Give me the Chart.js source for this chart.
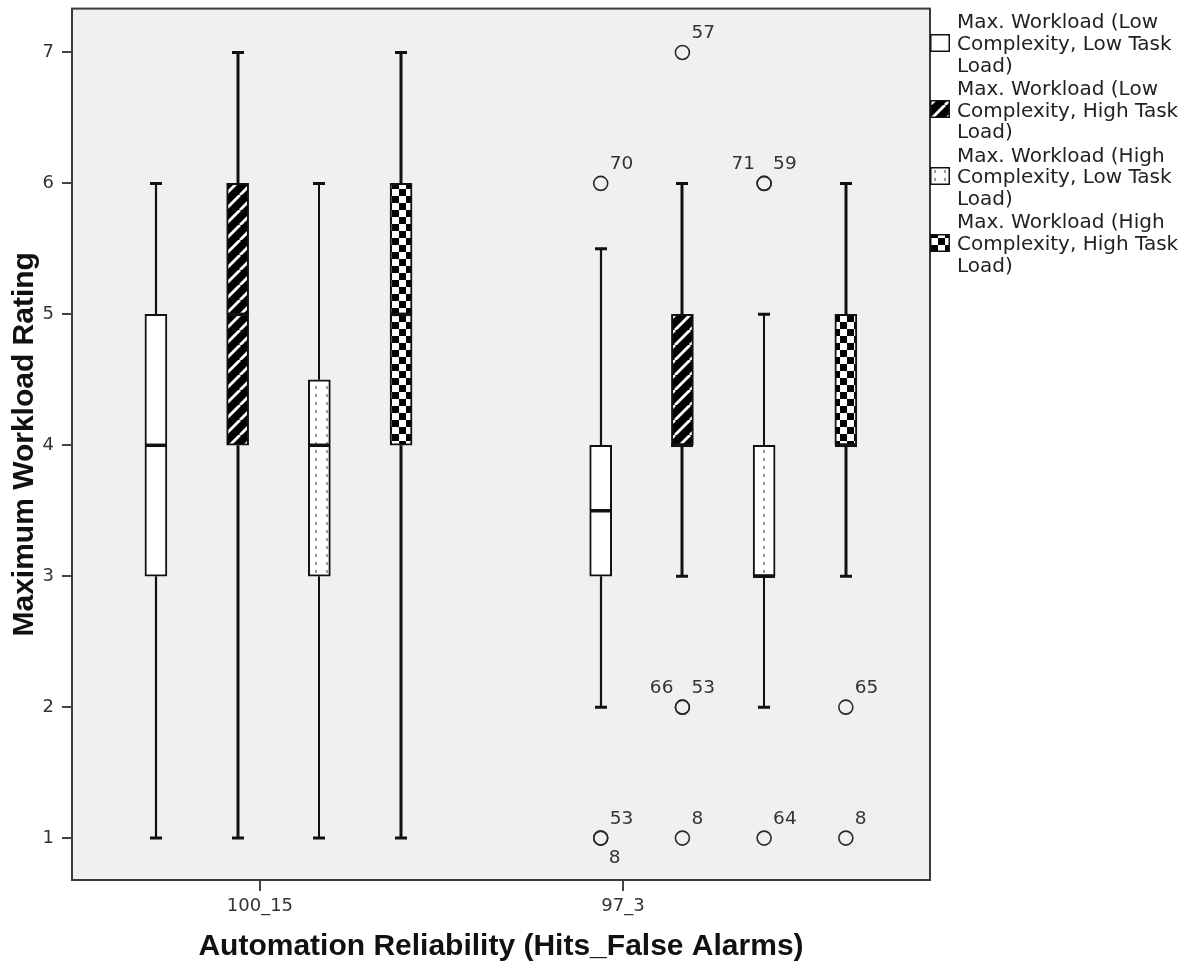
<!DOCTYPE html>
<html>
<head>
<meta charset="utf-8">
<script src="https://cdn.jsdelivr.net/npm/chart.js@4.4.1/dist/chart.umd.min.js"></script>
<style>
html, body { margin: 0; padding: 0; background: #ffffff; }
canvas { display: block; }
</style>
</head>
<body>
<canvas id="chart" width="1201" height="972"></canvas>
<script>
// ---------------- DATA ----------------
const categories = ['100_15', '97_3'];
const yTicks = [1, 2, 3, 4, 5, 6, 7];

const seriesLegend = [
  ['Max. Workload (Low', 'Complexity, Low Task', 'Load)'],
  ['Max. Workload (Low', 'Complexity, High Task', 'Load)'],
  ['Max. Workload (High', 'Complexity, Low Task', 'Load)'],
  ['Max. Workload (High', 'Complexity, High Task', 'Load)']
];

// [min, Q1, median, Q3, max] for 100_15 and 97_3
const lowCxLowTL   = [[1, 3, 4, 5, 6],   [2, 3, 3.5, 4, 5.5]];
const lowCxHighTL  = [[1, 4, 5, 6, 7],   [3, 4, 4, 5, 6]];
const highCxLowTL  = [[1, 3, 4, 4.5, 6], [2, 3, 3, 4, 5]];
const highCxHighTL = [[1, 4, 5, 6, 7],   [3, 4, 4, 5, 6]];

// outliers: [category index, value, case id]
const lowCxLowTLOut   = [[1, 6, '70'], [1, 1, '53'], [1, 1, '8']];
const lowCxHighTLOut  = [[1, 7, '57'], [1, 2, '66'], [1, 2, '53'], [1, 1, '8']];
const highCxLowTLOut  = [[1, 6, '71'], [1, 6, '59'], [1, 1, '64']];
const highCxHighTLOut = [[1, 2, '65'], [1, 1, '8']];

const seriesStats = [lowCxLowTL, lowCxHighTL, highCxLowTL, highCxHighTL];
const seriesOutliers = [lowCxLowTLOut, lowCxHighTLOut, highCxLowTLOut, highCxHighTLOut];

// ---------------- LAYOUT / STYLE ----------------
const groupCenters = [2.527, 7.97];
const seriesSpacing = 1.0;
const catTickPos = [2.30, 6.743];
const xPos = (c, s) => groupCenters[c] + (s - 1.5) * seriesSpacing;

function makeTile(w, h, draw) {
  const cv = document.createElement('canvas');
  cv.width = w; cv.height = h;
  const g = cv.getContext('2d');
  draw(g, w, h);
  return document.createElement('canvas').getContext('2d').createPattern(cv, 'repeat');
}
const hatchPattern = makeTile(15, 15, (g, w, h) => {
  g.fillStyle = '#000'; g.fillRect(0, 0, w, h);
  g.strokeStyle = '#fff'; g.lineWidth = 2.8;
  for (const k of [-15, 0, 15]) {
    g.beginPath(); g.moveTo(k, 15); g.lineTo(k + 15, 0); g.stroke();
  }
});
const dotPattern = makeTile(32, 8, (g, w, h) => {
  g.fillStyle = '#fff'; g.fillRect(0, 0, w, h);
  g.fillStyle = '#9a9a9a';
  for (const x of [6, 16, 27]) g.fillRect(x, 2, 2, 3);
});
const checkerPattern = makeTile(14, 14, (g, w, h) => {
  g.fillStyle = '#fff'; g.fillRect(0, 0, w, h);
  g.fillStyle = '#000'; g.fillRect(0, 0, 7, 7); g.fillRect(7, 7, 7, 7);
});

const seriesFill = ['#ffffff', hatchPattern, dotPattern, checkerPattern];
const whiskerWidth = [2.2, 3, 2, 3];
// label placement around coincident outliers
const pairPlacement = [['ur', 'lr'], ['ul', 'ur'], ['ul', 'ur'], ['ul', 'ur']];

const tickFont = { family: 'DejaVu Sans', size: 18 };
const titleFont = { family: 'Liberation Sans', size: 30, weight: 'bold' };

// ---------------- DATASETS ----------------
const datasets = [];
seriesStats.forEach((stats, s) => {
  datasets.push({
    type: 'bar',
    label: seriesLegend[s].join(' '),
    data: stats.map((st, c) => ({ x: xPos(c, s), y: [st[1], st[3]] })),
    backgroundColor: seriesFill[s],
    borderColor: '#111',
    borderWidth: 2,
    borderSkipped: false,
    barThickness: 22,
    grouped: false,
    order: 2
  });
});
seriesOutliers.forEach((outs, s) => {
  datasets.push({
    type: 'scatter',
    label: 'outliers ' + s,
    data: outs.map(o => ({ x: xPos(o[0], s), y: o[1] })),
    pointRadius: 7,
    pointBorderWidth: 1.6,
    pointBorderColor: '#2a2a2a',
    pointBackgroundColor: 'rgba(0,0,0,0)',
    pointHoverRadius: 7,
    order: 1
  });
});

// ---------------- PLUGIN ----------------
const boxPlugin = {
  id: 'boxParts',
  beforeDraw(chart) {
    const { ctx, chartArea: a } = chart;
    ctx.save();
    ctx.fillStyle = '#f0f0f0';
    ctx.fillRect(a.left, a.top, a.right - a.left, a.bottom - a.top);
    ctx.restore();
  },
  afterDatasetsDraw(chart) {
    const { ctx, scales: { x, y } } = chart;
    ctx.save();
    ctx.strokeStyle = '#111';
    ctx.lineCap = 'butt';
    seriesStats.forEach((stats, s) => {
      stats.forEach((st, c) => {
        const px = Math.round(x.getPixelForValue(xPos(c, s)));
        const [mn, q1, md, q3, mx] = st.map(v => y.getPixelForValue(v));
        ctx.lineWidth = whiskerWidth[s];
        ctx.beginPath();
        ctx.moveTo(px, q3); ctx.lineTo(px, mx);
        ctx.moveTo(px, q1); ctx.lineTo(px, mn);
        ctx.stroke();
        ctx.lineWidth = 3;
        ctx.beginPath();
        ctx.moveTo(px - 6, mx); ctx.lineTo(px + 6, mx);
        ctx.moveTo(px - 6, mn); ctx.lineTo(px + 6, mn);
        ctx.stroke();
        ctx.lineWidth = 3.5;
        ctx.beginPath();
        ctx.moveTo(px - 11, md); ctx.lineTo(px + 11, md);
        ctx.stroke();
      });
    });
    // outlier labels
    ctx.font = '18.5px "DejaVu Sans"';
    ctx.fillStyle = '#333';
    ctx.textBaseline = 'middle';
    seriesOutliers.forEach((outs, s) => {
      const groups = {};
      outs.forEach(o => {
        const key = o[0] + ':' + o[1];
        (groups[key] = groups[key] || []).push(o);
      });
      Object.values(groups).forEach(list => {
        const cx = x.getPixelForValue(xPos(list[0][0], s));
        const cy = y.getPixelForValue(list[0][1]);
        const places = list.length > 1 ? pairPlacement[s] : ['ur'];
        list.forEach((o, i) => {
          const p = places[i] || 'ur';
          if (p === 'ur') { ctx.textAlign = 'left'; ctx.fillText(o[2], cx + 9, cy - 19); }
          else if (p === 'ul') { ctx.textAlign = 'right'; ctx.fillText(o[2], cx - 9, cy - 19); }
          else if (p === 'lr') { ctx.textAlign = 'left'; ctx.fillText(o[2], cx + 8, cy + 20); }
        });
      });
    });
    ctx.restore();
  },
  afterDraw(chart) {
    const { ctx, chartArea: a } = chart;
    ctx.save();
    ctx.strokeStyle = '#3a3a3a';
    ctx.lineWidth = 2;
    ctx.strokeRect(a.left, a.top, a.right - a.left, a.bottom - a.top);
    // legend
    const lx = a.right;
    ctx.font = '20px "DejaVu Sans"';
    ctx.textBaseline = 'middle';
    ctx.textAlign = 'left';
    seriesLegend.forEach((lines, s) => {
      const base = 23 + s * 66.7;
      ctx.fillStyle = '#222';
      lines.forEach((t, l) => ctx.fillText(t, lx + 27, base + l * 21.7));
      const sy = Math.round(base + 21.7 - 11);
      ctx.fillStyle = seriesFill[s];
      ctx.fillRect(lx, sy, 20, 18);
      ctx.strokeStyle = '#111';
      ctx.lineWidth = 1.5;
      ctx.strokeRect(lx + 0.75, sy + 0.75, 18.5, 16.5);
    });
    ctx.restore();
  }
};

// ---------------- CHART ----------------
Chart.defaults.font.family = 'DejaVu Sans';
new Chart(document.getElementById('chart'), {
  type: 'bar',
  data: { datasets },
  options: {
    responsive: false,
    animation: false,
    events: [],
    layout: { padding: { left: 0, top: 7, right: 271, bottom: 0 } },
    plugins: { legend: { display: false }, tooltip: { enabled: false } },
    scales: {
      x: {
        type: 'linear',
        min: 0,
        max: 10.5,
        offset: false,
        afterBuildTicks: sc => { sc.ticks = catTickPos.map(v => ({ value: v })); },
        afterFit: sc => { sc.height = 92; sc.paddingLeft = 0; sc.paddingRight = 0; },
        ticks: {
          autoSkip: false,
          maxRotation: 0,
          padding: 5,
          color: '#333',
          font: tickFont,
          callback: (v, i) => categories[i]
        },
        grid: { display: true, drawOnChartArea: false, drawTicks: true, tickLength: 11, color: '#444', lineWidth: 2, offset: false },
        border: { display: false },
        title: { display: true, text: 'Automation Reliability (Hits_False Alarms)', color: '#111', font: titleFont, padding: { top: 0, bottom: 7 } }
      },
      y: {
        type: 'linear',
        min: 0.68,
        max: 7.335,
        beginAtZero: false,
        afterBuildTicks: sc => { sc.ticks = yTicks.map(v => ({ value: v })); },
        afterFit: sc => { sc.width = 72; sc.paddingTop = 0; sc.paddingBottom = 0; },
        ticks: { padding: 8, color: '#333', font: tickFont },
        grid: { display: true, drawOnChartArea: false, drawTicks: true, tickLength: 10, color: '#444', lineWidth: 2 },
        border: { display: false },
        title: { display: true, text: 'Maximum Workload Rating', color: '#111', font: titleFont, padding: { top: 7, bottom: 0 } }
      }
    }
  },
  plugins: [boxPlugin]
});
</script>
</body>
</html>
